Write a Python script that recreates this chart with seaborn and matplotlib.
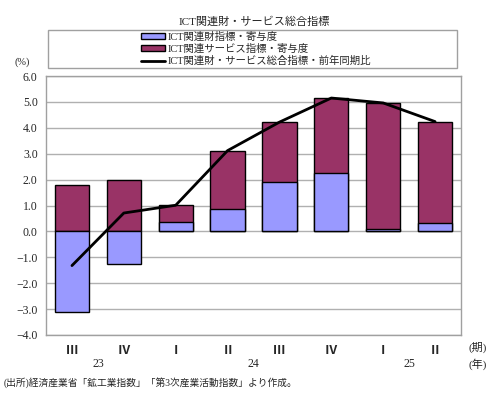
import numpy as np
import pandas as pd
import matplotlib
matplotlib.use("Agg")
import matplotlib.pyplot as plt
import seaborn as sns
from matplotlib.patches import Patch, Rectangle
from matplotlib.lines import Line2D
from matplotlib import transforms

# data
quarters = ["Ⅲ", "Ⅳ", "Ⅰ", "Ⅱ", "Ⅲ", "Ⅳ", "Ⅰ", "Ⅱ"]
years = ["23", "24", "25"]
year_pos = [0.5, 3.5, 6.5]
goods = [-3.10, -1.27, 0.37, 0.87, 1.92, 2.27, 0.10, 0.31]
services = [1.81, 1.97, 0.64, 2.22, 2.30, 2.88, 4.86, 3.93]
total_yoy = [-1.32, 0.71, 1.01, 3.12, 4.22, 5.15, 4.96, 4.24]

sns.set_style("white")
plt.rcParams["font.family"] = ["Liberation Serif", "Noto Sans CJK JP", "DejaVu Sans"]

blue = "#9999FF"
purple = "#993366"

df = pd.DataFrame({
    "q": [f"{i}" for i in range(len(quarters))],
    "goods": goods,
    "services": services,
    "total": total_yoy,
})
# services sit on top of positive goods contributions
df["serv_top"] = df["goods"].clip(lower=0) + df["services"]

fig = plt.figure(figsize=(4.97, 3.98), dpi=100)
ax = fig.add_axes([0.0926, 0.1583, 0.835, 0.6507])

sns.barplot(data=df, x="q", y="serv_top", color=purple, width=0.66,
            edgecolor="black", linewidth=1, saturation=1, ax=ax, zorder=2)
sns.barplot(data=df, x="q", y="goods", color=blue, width=0.66,
            edgecolor="black", linewidth=1, saturation=1, ax=ax, zorder=3)
sns.lineplot(x=np.arange(len(df)), y=df["total"], color="black", lw=2,
             ax=ax, zorder=4)

ax.set_xlim(-0.5, len(df) - 0.5)
ax.set_ylim(-4, 6)
ax.set_yticks(np.arange(-4, 7, 1))
ax.set_yticklabels([f"{v:.1f}".replace("-", "−") for v in np.arange(-4, 7, 1)], fontsize=8.5)
ax.set_xticks(range(len(df)))
ax.set_xticklabels(quarters, fontsize=9, fontweight="bold")
ax.tick_params(length=0, pad=7)
ax.tick_params(axis="y", pad=6)
ax.set_xlabel("")
ax.set_ylabel("")
ax.yaxis.grid(True, color="#b0b0b0", lw=1, zorder=0)
ax.set_axisbelow(True)
for sp in ax.spines.values():
    sp.set_color("#a0a0a0")
    sp.set_linewidth(1)

trans = transforms.blended_transform_factory(ax.transData, fig.transFigure)
for yr, xp in zip(years, year_pos):
    ax.text(xp, 1 - 364 / 398, yr, transform=trans, ha="center", va="center", fontsize=8.5)

fig.text(478 / 497, 1 - 347 / 398, "(期)", ha="center", va="center", fontsize=8)
fig.text(478 / 497, 1 - 364 / 398, "(年)", ha="center", va="center", fontsize=8)
fig.text(22 / 497, 1 - 62 / 398, "(%)", ha="center", va="center", fontsize=7.5)
fig.text(4 / 497, 1 - 383 / 398, "(出所)経済産業省「鉱工業指数」「第3次産業活動指数」より作成。",
         ha="left", va="center", fontsize=7)
fig.text(254 / 497, 1 - 22 / 398, "ICT関連財・サービス総合指標", ha="center", va="center", fontsize=8)

# legend frame
fig.patches.append(Rectangle((48 / 497, 1 - 68 / 398), 409 / 497, 38 / 398,
                             transform=fig.transFigure, fill=False,
                             edgecolor="#a0a0a0", lw=1))
handles = [
    Patch(facecolor=blue, edgecolor="black", lw=1),
    Patch(facecolor=purple, edgecolor="black", lw=1),
    Line2D([0], [0], color="black", lw=2),
]
labels = ["ICT関連財指標・寄与度", "ICT関連サービス指標・寄与度", "ICT関連財・サービス総合指標・前年同期比"]
fig.legend(handles, labels, loc="center", bbox_to_anchor=(256 / 497, 1 - 49 / 398),
           frameon=False, fontsize=7.5, handlelength=2.3, handleheight=0.5,
           handletextpad=0.3, labelspacing=0.2, borderpad=0)

fig.savefig("out.png", dpi=100)
